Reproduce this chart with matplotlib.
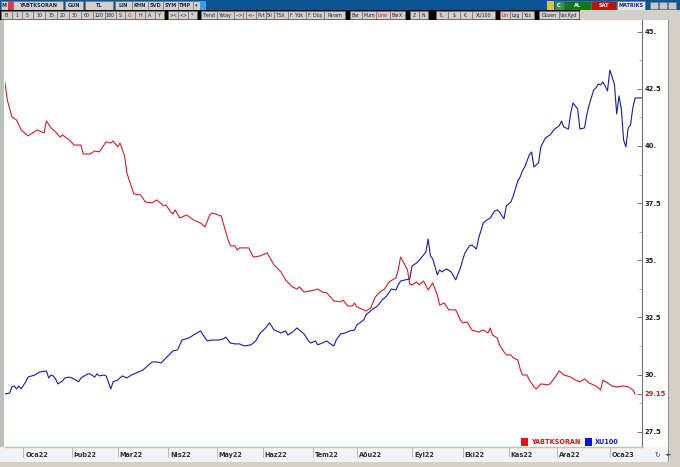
import matplotlib
matplotlib.use("Agg")
import matplotlib.pyplot as plt
import matplotlib.transforms as mtransforms
from matplotlib.patches import Rectangle

W, H = 680, 467

# ---- data (session index, value) ----
red_t = [0, 1, 3, 5, 7, 10, 12, 14, 17, 18, 20, 22, 24, 25, 28, 30, 33, 34, 37, 39,
         41, 43, 44, 46, 47, 49, 50, 52, 53, 54, 56, 59, 61, 64, 66, 69, 70, 72, 73, 74,
         76, 79, 82, 85, 87, 89, 90, 94, 97, 98, 100, 101, 102, 106, 108, 111, 114, 117, 120, 122,
         125, 127, 128, 130, 133, 136, 138, 140, 143, 146, 147, 149, 151, 152, 153, 155, 157, 159, 161, 163,
         165, 167, 170, 171, 172, 173, 175, 176, 177, 179, 180, 182, 184, 186, 188, 189, 191, 193, 196, 198,
         199, 201, 203, 206, 208, 210, 211, 212, 214, 215, 217, 218, 220, 221, 223, 224, 225, 227, 228, 230,
         231, 233, 236, 237, 239, 241, 243, 246, 248, 250, 252, 254, 257, 259, 260, 262, 264, 266, 269, 271,
         273, 274]
red_v = [42.76, 42.01, 41.27, 41.14, 40.70, 40.44, 40.57, 40.70, 40.57, 41.09, 40.79, 40.61, 40.39, 40.48, 40.26, 40.04, 40.04, 39.65, 39.65, 39.78,
         39.74, 40.04, 40.18, 40.13, 40.22, 39.96, 40.13, 39.56, 38.82, 38.51, 37.90, 37.86, 37.55, 37.51, 37.64, 37.38, 37.42, 37.11, 37.03, 37.20,
         36.85, 36.98, 36.76, 36.63, 36.46, 36.98, 37.07, 36.94, 35.89, 35.63, 35.63, 35.45, 35.54, 35.54, 35.14, 35.19, 35.32, 34.79, 34.49, 34.14,
         33.83, 33.74, 33.83, 33.61, 33.66, 33.74, 33.61, 33.57, 33.22, 33.18, 33.26, 33.00, 33.00, 33.13, 32.96, 32.87, 32.78, 32.91, 33.39, 33.61,
         33.74, 34.05, 34.23, 34.58, 35.14, 34.97, 34.58, 33.96, 33.92, 34.05, 33.92, 34.09, 33.70, 34.01, 33.48, 33.04, 33.13, 32.83, 32.83, 32.39,
         32.26, 32.30, 31.95, 31.86, 31.95, 31.82, 32.04, 31.73, 31.60, 31.30, 30.99, 30.86, 30.86, 30.73, 30.64, 30.25, 29.98, 29.98, 29.76, 29.46,
         29.37, 29.59, 29.55, 29.59, 29.85, 30.16, 29.98, 29.89, 29.76, 29.68, 29.81, 29.63, 29.50, 29.33, 29.76, 29.63, 29.50, 29.46, 29.50, 29.46,
         29.33, 29.15]

blue_t = [0, 2, 3, 4, 5, 6, 7, 9, 10, 13, 15, 18, 19, 20, 21, 22, 23, 25, 26, 28,
          30, 32, 33, 36, 37, 39, 40, 41, 43, 44, 46, 47, 49, 51, 53, 55, 57, 60, 62, 64,
          66, 68, 70, 73, 75, 77, 80, 82, 85, 87, 88, 90, 93, 95, 96, 98, 100, 102, 104, 107,
          109, 111, 113, 115, 117, 118, 120, 122, 123, 125, 127, 128, 130, 132, 133, 135, 136, 138, 140, 141,
          143, 144, 146, 148, 150, 152, 153, 156, 157, 160, 162, 164, 166, 168, 170, 171, 172, 174, 176, 177,
          179, 181, 183, 184, 185, 186, 188, 189, 190, 192, 194, 196, 198, 199, 200, 202, 203, 205, 206, 208,
          209, 211, 213, 214, 215, 217, 218, 220, 221, 223, 224, 225, 226, 228, 229, 230, 232, 233, 235, 237,
          239, 241, 242, 243, 245, 246, 247, 249, 250, 252, 253, 254, 256, 257, 258, 259, 260, 261, 262, 263,
          264, 265, 266, 267, 268, 269, 270, 271, 272, 273, 274, 277]
blue_v = [29.15, 29.19, 29.46, 29.50, 29.37, 29.50, 29.37, 29.68, 29.89, 29.98, 30.11, 30.16, 29.85, 29.98, 29.94, 29.81, 29.59, 29.72, 29.85, 29.89,
          29.81, 29.68, 29.85, 30.03, 30.03, 29.89, 30.03, 29.94, 29.98, 29.94, 29.37, 29.68, 29.76, 29.94, 29.85, 29.98, 30.07, 30.20, 30.38, 30.55,
          30.55, 30.51, 30.73, 31.03, 31.08, 31.51, 31.60, 31.73, 31.91, 31.60, 31.47, 31.51, 31.51, 31.56, 31.64, 31.38, 31.34, 31.34, 31.25, 31.30,
          31.47, 31.82, 32.00, 32.26, 31.95, 31.91, 31.82, 31.91, 31.73, 31.86, 32.04, 31.95, 31.78, 31.47, 31.38, 31.47, 31.30, 31.38, 31.47, 31.38,
          31.25, 31.51, 31.78, 31.82, 31.91, 31.95, 32.17, 32.39, 32.61, 32.87, 33.00, 33.26, 33.44, 33.74, 33.70, 33.92, 34.09, 34.14, 34.18, 34.75,
          34.88, 35.10, 35.36, 35.93, 35.19, 35.06, 34.36, 34.58, 34.49, 34.62, 34.49, 34.14, 34.66, 35.01, 35.32, 35.63, 35.67, 35.49, 35.98, 36.63,
          36.72, 36.85, 37.16, 37.20, 37.11, 36.81, 37.38, 37.55, 37.81, 38.47, 38.64, 38.91, 39.08, 39.61, 39.74, 39.08, 39.26, 39.96, 40.35, 40.48,
          40.74, 40.88, 41.09, 40.83, 40.74, 41.44, 41.88, 41.62, 40.74, 40.79, 41.36, 41.79, 42.45, 42.54, 42.71, 42.67, 42.80, 42.62, 42.41, 43.32,
          43.02, 42.71, 41.40, 42.19, 41.62, 40.26, 39.96, 40.79, 40.92, 41.66, 42.10, 42.10]

month_pos = [8, 29, 49, 71, 92, 112, 134, 153, 177, 199, 219, 240, 263]
month_lbl = ["Oca22", "Þub22", "Mar22", "Nis22", "May22", "Haz22", "Tem22",
             "Aðu22", "Eyl22", "Eki22", "Kas22", "Ara22", "Oca23"]
y_ticks = [27.5, 30, 32.5, 35, 37.5, 40, 42.5, 45]
y_lbls = ["27.5", "30.", "32.5", "35.", "37.5", "40.", "42.5", "45."]
last_val = 29.15
series_names = ["YABTKSORAN", "XU100"]

RED = "#cc2027"
BLUE = "#1b1ba3"
GRAY = "#d4d0c8"

fig = plt.figure(figsize=(W / 100, H / 100), dpi=100, facecolor="white")

# chrome layer in pixel coords (y down)
ui = fig.add_axes([0, 0, 1, 1], zorder=0)
ui.set_xlim(0, W)
ui.set_ylim(H, 0)
ui.axis("off")
# top layer for the legend
top = fig.add_axes([0, 0, 1, 1], zorder=5)
top.set_xlim(0, W)
top.set_ylim(H, 0)
top.axis("off")


def box(x0, y0, x1, y1, fc, ec="none", lw=0.5, on=None):
    (on or ui).add_patch(Rectangle((x0, y0), x1 - x0, y1 - y0, fc=fc, ec=ec, lw=lw))


def btn(x0, x1, y0, y1, txt, tc="#202020", fc=GRAY, fs=3.6, bold=True):
    box(x0, y0, x1, y1, fc, "#707070", 0.4)
    ui.text((x0 + x1) / 2, (y0 + y1) / 2 + 0.3, txt, ha="center", va="center",
            fontsize=fs, color=tc, fontweight="bold" if bold else "normal")


# window frame
box(0, 20, 4, 462, "#b9c4b9")
box(668, 20, 680, 467, GRAY)
box(668, 20, 669, 462, "#909090")
box(0, 447, 668, 462, "#f3f3f3")
box(0, 462, 680, 467, GRAY)

# row 1: title bar
box(0, 0, W, 10, "#0b5592")
row1 = [(1, 8, "M"), (13, 63, "YABTKSORAN"), (65, 83, "GUN"), (85, 113, "TL"), (115, 132, "LIN"),
        (132, 148, "KHN"), (148, 163, "SVD"), (163, 178, "SYM"), (178, 193, "TMP"), (193, 200, "▾")]
for a, b, t in row1:
    btn(a, b, 1, 9.5, t, tc="#1a2a60")
box(8, 1, 13, 9.5, "#d04040")
box(200, 1, 206, 9.5, "#3aa0e0")
box(547, 1, 554, 9.5, "#e8c030")
btn(555, 563, 1, 9.5, "C", tc="white", fc="#2a9a4a")
btn(564, 591, 1, 9.5, "AL", tc="#e8ffe8", fc="#0a7a1a")
btn(591, 616, 1, 9.5, "SAT", tc="white", fc="#c01010")
btn(617, 645, 1, 9.5, "MATRIKS", tc="#1a2a8a", fc="#e4e4e4")
for a in (650, 659, 668):
    btn(a, a + 8, 1.5, 9, "", fc="#c8c8c8")

# row 2: tool buttons
box(0, 10, 580, 19.5, "#000000")
box(580, 10, W, 19.5, GRAY)
row2 = [(1, 12, "B"), (12, 22, "1"), (22, 33, "5"), (33, 45, "10"), (45, 57, "15"), (57, 69, "20"),
        (69, 81, "30"), (81, 93, "60"), (93, 105, "120"), (105, 116, "180"), (116, 125, "S"),
        (125, 135, "G"), (135, 145, "H"), (145, 155, "A"), (155, 164, "Y"),
        (168, 178, "><"), (178, 188, "<>"), (188, 197, "*"),
        (201, 217, "Trend"), (217, 234, "Yatay"), (234, 246, "-->|"), (246, 256, "<--"),
        (256, 266, "Pvt"), (266, 274, "Sil"), (274, 288, "T.Sil"), (288, 306, "F. Yük"),
        (306, 324, "F. Düş"), (324, 345, "Param"),
        (350, 362, "Bar"), (362, 376, "Mum"), (376, 390, "Line"), (390, 405, "BarX"),
        (410, 419, "Z"), (419, 428, "N"), (436, 448, "TL"), (448, 460, "$"), (460, 472, "€"),
        (472, 495, "XU100"), (500, 510, "Lin"), (510, 522, "Log"), (522, 534, "Yüz"),
        (539, 559, "Düzen"), (559, 579, "Var.Kyd")]
red_btns = {"G", "Line", "TL", "Lin"}
for a, b, t in row2:
    btn(a, b, 10.5, 19, t, tc="#d01010" if t in red_btns else "#202050", fs=3.4, bold=False)

# bottom-right scroll icons
ui.text(657, 455, "↻", ha="center", va="center", fontsize=5, color="#3050a0")
ui.text(669, 455, "◄►", ha="center", va="center", fontsize=3.5, color="#3050a0")

# ---- main chart ----
ax = fig.add_axes([5 / W, 20 / H, 637 / W, 427 / H], zorder=2)
ax.set_facecolor("white")
ax.plot(red_t, red_v, color=RED, lw=0.8)
ax.plot(blue_t, blue_v, color=BLUE, lw=0.8)
ax.set_xlim(0, 277)
ax.set_ylim(26.83, 45.51)

for s in ("top", "left"):
    ax.spines[s].set_visible(False)
ax.spines["right"].set_color("#707070")
ax.spines["right"].set_linewidth(0.8)
ax.spines["bottom"].set_color("#a8d4a8")
ax.spines["bottom"].set_linewidth(1.0)

ax.yaxis.tick_right()
ax.set_yticks(y_ticks + [last_val])
ax.set_yticklabels(y_lbls + ["%.2f" % last_val])
ax.set_yticks([t + 1.25 for t in y_ticks[:-1]], minor=True)
ax.tick_params(axis="y", which="major", direction="in", length=3.5, width=0.6,
               color="#606060", pad=2, labelsize=4.9, labelcolor="#202020")
ax.tick_params(axis="y", which="minor", direction="in", length=2, width=0.5, color="#909090")
for lab in ax.get_yticklabels():
    lab.set_fontweight("bold")
ax.get_yticklabels()[-1].set_color(RED)
ax.get_yticklines()[-2].set_color("#202050")
ax.get_yticklines()[-2].set_markersize(5)

ax.set_xticks(month_pos)
ax.tick_params(axis="x", direction="out", length=7.5, width=0.6, color="#b0b0b0",
               labelbottom=False)
trans = mtransforms.blended_transform_factory(ax.transData, ax.transAxes) + \
    mtransforms.ScaledTranslation(2 / 100, 0, fig.dpi_scale_trans)
for p, l in zip(month_pos, month_lbl):
    ax.text(p, -0.019, l, transform=trans, ha="left", va="center", fontsize=4.7,
            fontweight="bold", color="#303030", clip_on=False)

# legend
box(521, 438, 528, 446, "#ee1111", on=top)
top.text(531, 442.5, series_names[0], ha="left", va="center", fontsize=4.7,
         fontweight="bold", color="#e01010")
box(585, 438, 592, 446, "#1010e0", on=top)
top.text(595, 442.5, series_names[1], ha="left", va="center", fontsize=4.7,
         fontweight="bold", color="#1818c0")

fig.savefig("out.png", dpi=100, facecolor=fig.get_facecolor())
